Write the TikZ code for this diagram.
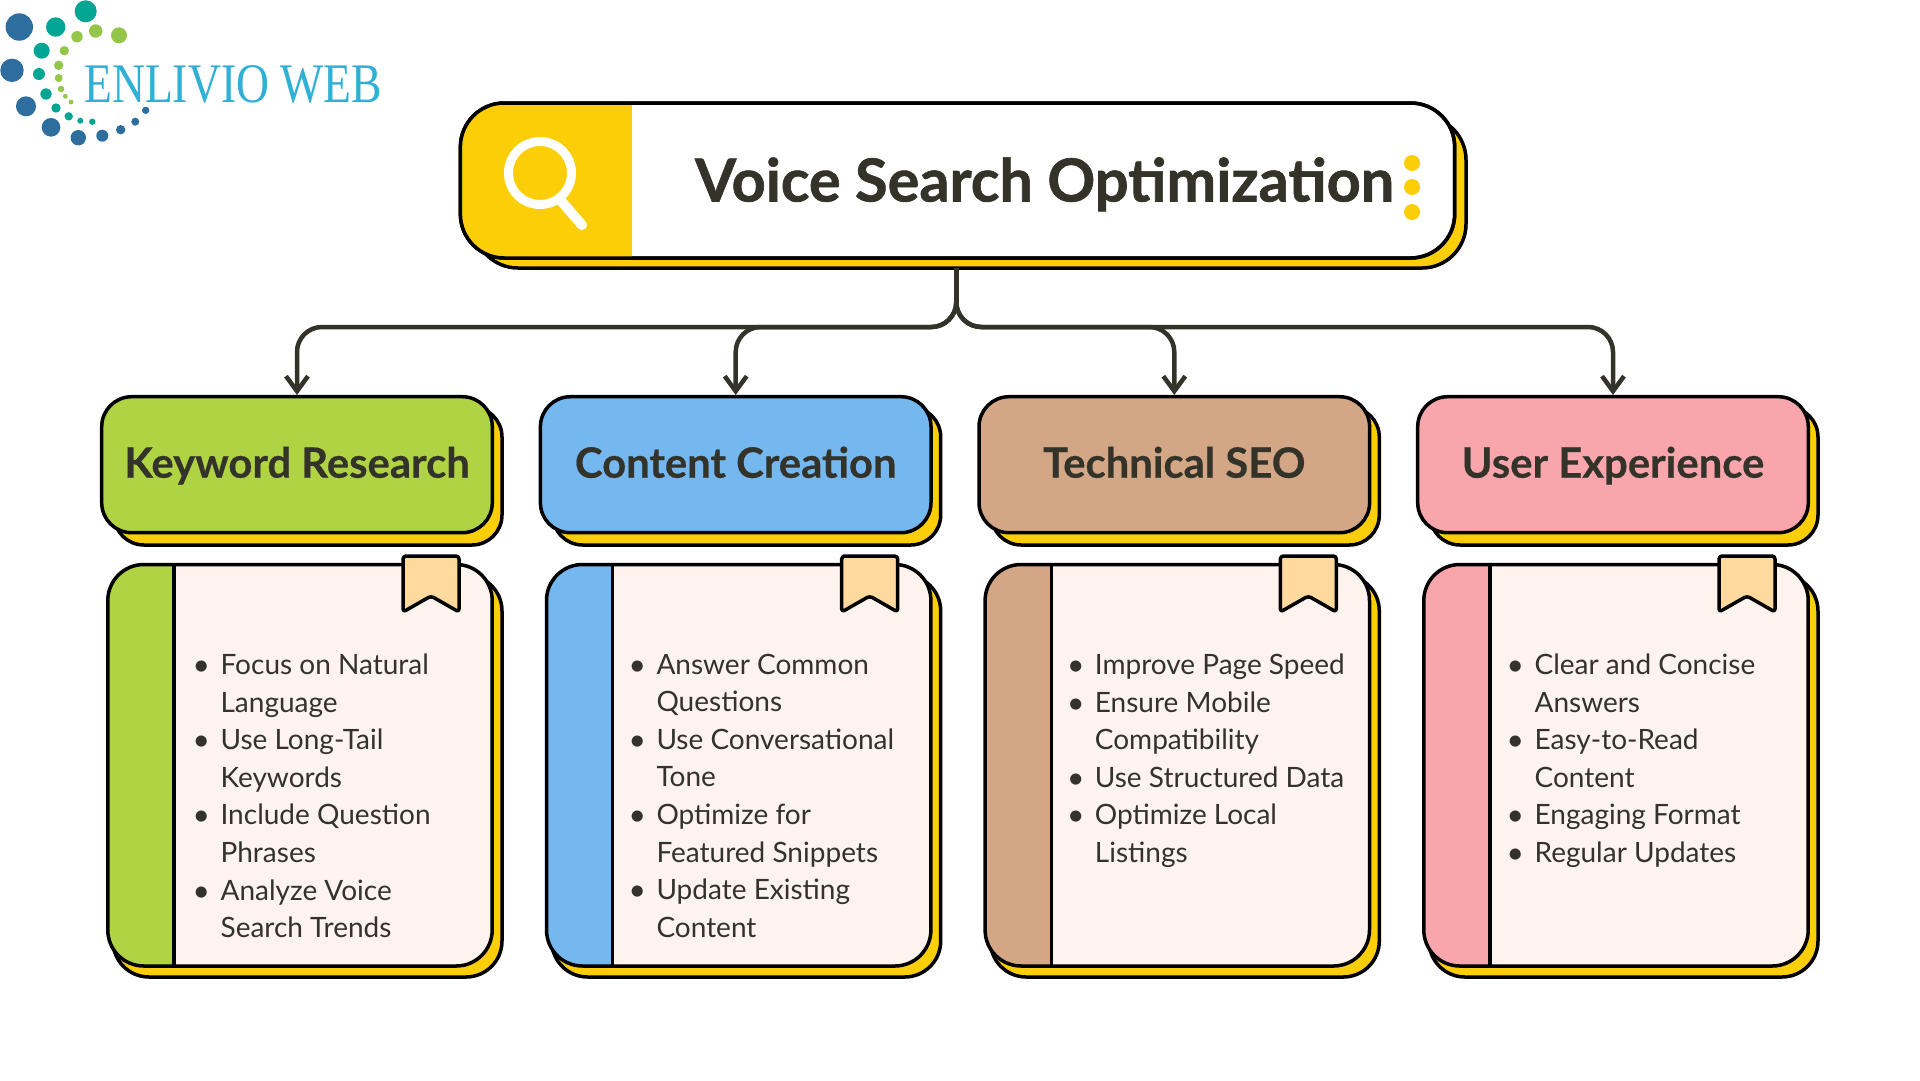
\documentclass[tikz,border=0pt]{standalone}
\usepackage{fontspec}
\usetikzlibrary{arrows.meta,calc}
\setmainfont{Lato}
\newfontfamily\logofont{Liberation Serif}
\newfontfamily\headfont{Lato}[BoldFeatures={FakeBold=0.4}]
\newfontfamily\titlefont{Lato}[BoldFeatures={FakeBold=1.0}]
\definecolor{ink}{HTML}{33332A}
\definecolor{sunny}{HTML}{FBCE07}
\definecolor{cream}{HTML}{FEF3ED}
\definecolor{tabcol}{HTML}{FFD99E}
\definecolor{leaf}{HTML}{AFD343}
\definecolor{sky}{HTML}{75B7EF}
\definecolor{tan}{HTML}{D3A785}
\definecolor{rose}{HTML}{F8A5AB}
\definecolor{lgblue}{HTML}{2E6E9E}
\definecolor{lgteal}{HTML}{00A593}
\definecolor{lggreen}{HTML}{93C649}
\definecolor{lgtext}{HTML}{30B0D4}
\tikzset{
  x=1pt,y=-1pt,
  edge/.style={draw=black,line width=3.5pt},
  headshadow/.style={edge,fill=sunny,rounded corners=30pt},
  headbox/.style={edge,rounded corners=30pt,minimum width=390.6pt,minimum height=136pt,inner sep=0pt,
    text=ink,text height=35pt,text depth=9pt,font=\fontsize{41.8}{46}\selectfont\headfont\bfseries},
  bookbox/.style={edge,rounded corners=36pt},
  ribbon/.style={edge,fill=tabcol,rounded corners=3pt,line join=round},
  listtext/.style={anchor=north west,inner sep=0pt,align=left,text=ink,
    font=\fontsize{28}{37.6}\selectfont},
  link/.style={draw=ink,line width=4.5pt,rounded corners=25pt},
  linktip/.style={-{Straight Barb[length=15pt,width=22pt,line width=4.5pt]}},
}
\newcommand{\bl}{\leavevmode\llap{\raisebox{-1pt}{\fontsize{30}{30}\selectfont•}\hspace{10.5pt}}}
% #1 name  #2 x offset  #3 colour  #4 heading  #5 list
\newcommand{\colgrp}[5]{%
\begin{scope}[xshift=#2pt]
  \draw[headshadow] (114,407) rectangle (502,545);
  \node[headbox,fill=#3] (#1) at (297,464.7) {#4};
  \draw[bookbox,fill=sunny] (113,575) rectangle (502,977);
  \begin{scope}
    \clip[rounded corners=36pt] (107.8,564.5) rectangle (492.2,966);
    \fill[cream] (107.8,564.5) rectangle (492.2,966);
    \fill[#3] (107.8,564.5) rectangle (174,966);
    \draw[edge] (174,564.5) -- (174,966);
  \end{scope}
  \draw[bookbox] (107.8,564.5) rectangle (492.2,966);
  \draw[ribbon] (403,556) -- (459,556) -- (459,612) -- (431,596) -- (403,612) -- cycle;
  \node[listtext] (#1list) at (220.4,653.6) {#5};
\end{scope}}
\begin{document}
\begin{tikzpicture}
\useasboundingbox (0,0) rectangle (1920,1080);
\fill[white] (0,0) rectangle (1920,1080);
% logo
\foreach \cx/\cy/\r/\c in {
 19.3/27/13.7/lgblue,55.7/27/9.7/lgteal,85.7/11.3/11/lgteal,77/36.7/5.7/lggreen,95.7/31/6.7/lggreen,119/35.3/8/lggreen,
 41.7/50.7/8/lgteal,64.3/50.7/4.7/lggreen,12/70.3/11.7/lgblue,39/74/6/lgteal,58.7/65.3/4.7/lggreen,58.7/78/4/lggreen,
 61/89/3.3/lggreen,65.3/96.3/2.4/lggreen,71/102/2.4/lggreen,46/94/5.7/lgteal,26/106.3/10/lgblue,56/108/4.7/lgteal,
 68.7/116.3/4.2/lgteal,80.3/120.7/3/lgteal,92.3/121.7/3.2/lgteal,51/127.3/9.3/lgblue,78.3/137.7/7.7/lgblue,
 102.3/135.7/6/lgblue,120.7/129.7/4.7/lgblue,135.3/121.7/4/lgblue,145.7/110.3/3.7/lgblue}
 {\fill[\c] (\cx,\cy) circle[radius=\r pt];}
\node[anchor=base west,inner sep=0pt,text=lgtext] (logo) at (84,102.5)
  {\resizebox{298pt}{37pt}{\fontsize{54}{54}\logofont ENLIVIO WEB}};
% title
\draw[edge,fill=sunny,rounded corners=44pt] (474,116) rectangle (1466,268);
\node[edge,fill=white,rounded corners=44pt,minimum width=994.3pt,minimum height=155pt,inner sep=0pt] (title) at (957.5,180.5) {};
\begin{scope}
  \clip[rounded corners=44pt] (460.4,103) rectangle (1454.7,258);
  \fill[sunny] (460.4,103) rectangle (632,258);
\end{scope}
\draw[edge,rounded corners=44pt] (460.4,103) rectangle (1454.7,258);
\draw[white,line width=9pt] (540,173) circle[radius=31.5pt];
\draw[white,line width=10pt,line cap=round] (562,202) -- (582,225);
\node[anchor=base,inner sep=0pt,text=ink,font=\fontsize{59.4}{60}\selectfont\titlefont\bfseries] (titletext) at (1044.5,201.5) {Voice Search Optimization};
\foreach \yy in {163,187,212} {\fill[sunny] (1412,\yy) circle[radius=8pt];}
% columns
\colgrp{kw}{0}{leaf}{Keyword Research}{%
 \bl Focus on Natural\\Language\\\bl Use Long-Tail\\Keywords\\\bl Include Question\\Phrases\\\bl Analyze Voice\\Search Trends}
\colgrp{cc}{438.7}{sky}{Content Creation}{%
 \hspace{-2.8pt}\bl Answer Common\\\hspace{-2.8pt}Questions\\\hspace{-2.8pt}\bl Use Conversational\\\hspace{-2.8pt}Tone\\\hspace{-2.8pt}\bl Optimize for\\\hspace{-2.8pt}Featured Snippets\\\hspace{-2.8pt}\bl Update Existing\\\hspace{-2.8pt}Content}
\colgrp{ts}{877.3}{tan}{Technical SEO}{%
 \hspace{-3pt}\bl Improve Page Speed\\\hspace{-3pt}\bl Ensure Mobile\\\hspace{-3pt}Compatibility\\\hspace{-3pt}\bl Use Structured Data\\\hspace{-3pt}\bl Optimize Local\\\hspace{-3pt}Listings}
\colgrp{ux}{1316}{rose}{User Experience}{%
 \hspace{-2pt}\bl Clear and Concise\\\hspace{-2pt}Answers\\\hspace{-2pt}\bl Easy-to-Read\\\hspace{-2pt}Content\\\hspace{-2pt}\bl Engaging Format\\\hspace{-2pt}\bl Regular Updates}
% connectors
\coordinate (tail) at (956.3,268);
\coordinate (rail) at (956.3,327);
\foreach \n in {kw,cc,ts,ux}{
  \draw[link,linktip] (tail) -- (rail) -| (\n.north);
}
\end{tikzpicture}
\end{document}
